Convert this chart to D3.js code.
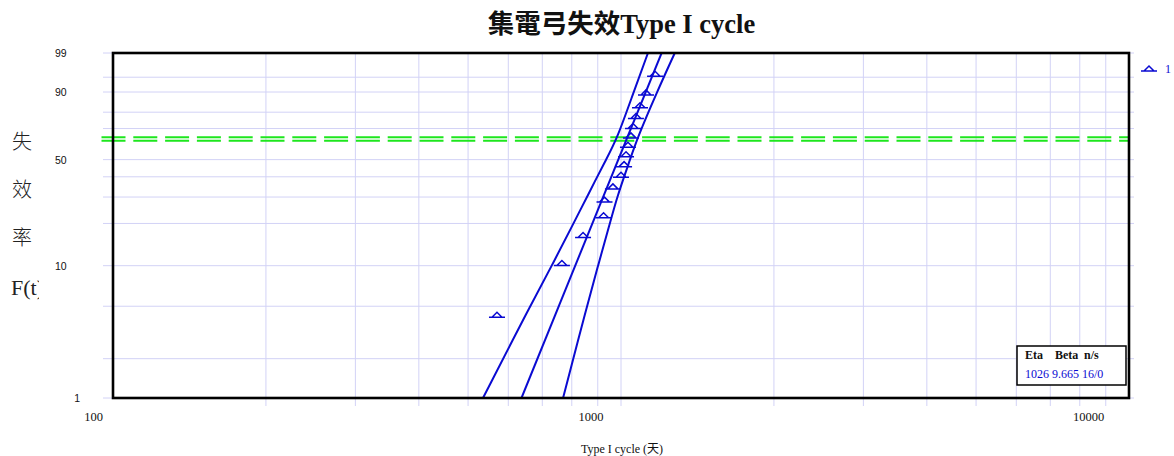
<!DOCTYPE html>
<html><head><meta charset="utf-8">
<script src="https://cdn.jsdelivr.net/npm/d3@7"></script>
<style>
html,body{margin:0;padding:0;background:#fff;}
svg{display:block;}
</style></head>
<body>
<svg id="chart" width="1174" height="456"></svg>
<script>
// ---- data ----
const title = "集電弓失效Type I cycle";
const xTitle = "Type I cycle (天)";
const yTitleChars = ["失", "效", "率"];
const yTitleLatin = "F(t)";
const xTickLabels = [100, 1000, 10000];
const xGridValues = [200,300,400,500,600,700,800,900,1000,2000,3000,4000,5000,6000,7000,8000,9000];
const yTickLabels = [99, 90, 50, 10, 1];
const yGridValues = [1,2,5,10,20,30,40,50,70,80,90,95,99];
const charLifeF = 63.2;
// failure times (cycles) and median ranks (%)
const failTimes = [570, 765, 842, 924, 928, 964, 1000, 1014, 1023, 1032, 1046, 1056, 1070, 1090, 1120, 1167];
const medianRanks = [4.27, 10.37, 16.46, 22.56, 28.66, 34.76, 40.85, 46.95, 53.05, 59.15, 65.24, 71.34, 77.44, 83.54, 89.63, 95.73];
// fitted Weibull line end points
const fitT = [637, 1202];
const fitF = [1, 99];
// confidence bounds
const boundF = [1, 5, 10, 20, 30, 50, 63.2, 90, 99];
const lowerT = [535, 662, 731, 806, 857, 934, 982, 1059, 1130];
const upperT = [769, 857, 901, 951, 982, 1042, 1075, 1177, 1276];
const legendLabel = "1";
const infoHeader = ["Eta", "Beta", "n/s"];
const infoValues = ["1026", "9.665", "16/0"];

// ---- layout ----
const L = 113, R = 1129, T = 53, B = 398;
const blue = "#0a0ad2";
const gridColor = "#d2d2f6";
const svg = d3.select("#chart");

const weib = F => Math.log(-Math.log(1 - F / 100));
const x = d3.scaleLog().domain([100, 10000]).range([L, R]);
const yLin = d3.scaleLinear().domain([weib(1), weib(99)]).range([B, T]);
const y = F => yLin(weib(F));

// grid
const grid = svg.append("g");
grid.selectAll("line.h").data(yGridValues).join("line")
  .attr("x1", L - 10).attr("x2", R + 5)
  .attr("y1", d => y(d)).attr("y2", d => y(d))
  .attr("stroke", gridColor).attr("stroke-width", 1);
grid.selectAll("line.v").data(xGridValues).join("line")
  .attr("x1", d => x(d)).attr("x2", d => x(d))
  .attr("y1", T).attr("y2", B + 8)
  .attr("stroke", gridColor).attr("stroke-width", 1);

// characteristic life line (double green dashed)
[-1.7, 1.7].forEach(off => {
  svg.append("line")
    .attr("x1", L - 11.5).attr("x2", R)
    .attr("y1", y(charLifeF) + off).attr("y2", y(charLifeF) + off)
    .attr("stroke", "#1ee61e").attr("stroke-width", 1.9)
    .attr("stroke-dasharray", "24,7.8");
});

// clip
svg.append("clipPath").attr("id", "plotclip").append("rect")
  .attr("x", L).attr("y", T).attr("width", R - L).attr("height", B - T);

const lineGen = d3.line().x(d => x(d[0])).y(d => y(d[1])).curve(d3.curveBasis);
const lines = svg.append("g").attr("clip-path", "url(#plotclip)");
lines.append("path").datum(lowerT.map((t, i) => [t, boundF[i]]))
  .attr("d", lineGen).attr("fill", "none").attr("stroke", blue).attr("stroke-width", 2);
lines.append("path").datum(upperT.map((t, i) => [t, boundF[i]]))
  .attr("d", lineGen).attr("fill", "none").attr("stroke", blue).attr("stroke-width", 2);
lines.append("path").datum(fitT.map((t, i) => [t, fitF[i]]))
  .attr("d", d3.line().x(d => x(d[0])).y(d => y(d[1])))
  .attr("fill", "none").attr("stroke", blue).attr("stroke-width", 2);

// markers
const markerPath = "M-8,2L8,2M-5,2L0,-3L5,2";
svg.append("g").selectAll("path").data(failTimes.map((t, i) => [t, medianRanks[i]])).join("path")
  .attr("transform", d => `translate(${x(d[0])},${y(d[1])})`)
  .attr("d", markerPath).attr("fill", "none").attr("stroke", blue).attr("stroke-width", 1.5);

// border
svg.append("rect").attr("x", L).attr("y", T).attr("width", R - L).attr("height", B - T)
  .attr("fill", "none").attr("stroke", "#000").attr("stroke-width", 2.6);

// y tick labels
svg.append("g").selectAll("text").data(yTickLabels).join("text")
  .attr("x", d => d === 1 ? 80 : 55)
  .attr("text-anchor", d => d === 1 ? "end" : "start")
  .attr("y", d => y(d) + 4)
  .attr("font-family", "Liberation Sans, Arial, sans-serif").attr("font-size", 10.5)
  .attr("fill", "#111").text(d => d);

// x tick labels
svg.append("g").selectAll("text").data(xTickLabels).join("text")
  .attr("x", d => x(d) - 19.5 - 10.5 * Math.log10(d / 100))
  .attr("y", 421).attr("text-anchor", "middle")
  .attr("font-family", "Liberation Serif, Times New Roman, serif").attr("font-size", 12.5)
  .attr("fill", "#111").text(d => d);

// title
svg.append("text").attr("x", 621.5).attr("y", 33).attr("text-anchor", "middle")
  .attr("font-family", "Liberation Serif, 'Noto Sans CJK TC', serif").attr("font-weight", "bold")
  .attr("font-size", 26.5).attr("fill", "#111").text(title);

// x title
svg.append("text").attr("x", 622).attr("y", 453).attr("text-anchor", "middle")
  .attr("font-family", "Liberation Serif, 'Noto Sans CJK TC', serif")
  .attr("font-size", 12).attr("fill", "#111").text(xTitle);

// y title
svg.append("clipPath").attr("id", "ytclip").append("rect")
  .attr("x", 0).attr("y", 100).attr("width", 39).attr("height", 220);
const yt = svg.append("g").attr("clip-path", "url(#ytclip)");
yt.selectAll("text.c").data(yTitleChars).join("text")
  .attr("x", 12).attr("y", (d, i) => 149 + i * 48)
  .attr("font-family", "'Noto Sans CJK TC', sans-serif").attr("font-weight", 300)
  .attr("font-size", 20).attr("fill", "#222").text(d => d);
yt.append("text").attr("x", 11).attr("y", 295)
  .attr("font-family", "Liberation Serif, serif").attr("font-size", 22)
  .attr("fill", "#222").text(yTitleLatin);

// legend
svg.append("path").attr("transform", "translate(1149,69)")
  .attr("d", markerPath).attr("fill", "none").attr("stroke", blue).attr("stroke-width", 1.5);
svg.append("text").attr("x", 1165).attr("y", 73)
  .attr("font-family", "Liberation Serif, serif").attr("font-size", 12)
  .attr("fill", blue).text(legendLabel);

// info box
svg.append("rect").attr("x", 1017).attr("y", 346).attr("width", 109).attr("height", 39)
  .attr("fill", "#fff").attr("stroke", "#000").attr("stroke-width", 1.5);
const hdrX = [1025, 1055, 1084];
svg.append("g").selectAll("text").data(infoHeader).join("text")
  .attr("x", (d, i) => hdrX[i]).attr("y", 359)
  .attr("font-family", "Liberation Serif, serif").attr("font-size", 12).attr("font-weight", "bold")
  .attr("fill", "#111").text(d => d);
svg.append("text").attr("x", 1025).attr("y", 378)
  .attr("font-family", "Liberation Serif, serif").attr("font-size", 12)
  .attr("fill", blue).text(infoValues.join(" "));
</script>
</body></html>
